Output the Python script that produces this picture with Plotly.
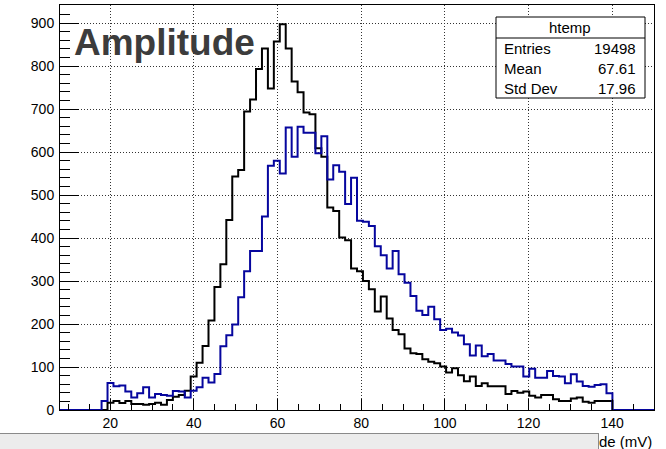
import numpy as np
import plotly.graph_objects as go

# ---- histogram binning (htemp: 100 bins from 8 to 150 mV) ----
n_bins = 100
x_min, x_max = 8.0, 150.0

# counts per bin (black: htemp, blue: second histogram)
black_counts = ([0] * 8 +
    [17, 21, 16, 21, 14, 14, 12, 14, 17, 12, 23, 31, 35, 45,
     78, 110, 149, 208, 286, 339, 442, 543, 558,
     694, 722, 793, 841, 748, 857, 897, 841, 764, 739,
     692, 688, 609, 589, 471, 463, 401, 395, 329, 323,
     300, 281, 229, 264, 213, 186, 176, 143, 132, 130,
     118, 112, 109, 101, 87, 97, 81, 67, 78, 56, 62, 55,
     55, 55, 37, 44, 40, 43, 33, 29, 35, 35, 25, 21, 21, 27, 29, 19, 17, 21, 21, 21] +
    [0] * 7)

blue_counts = ([0] * 7 +
    [21, 63, 55, 57, 43, 29, 39, 53, 29, 37, 35, 33, 44, 43, 29, 45, 53, 75, 64, 84,
     148, 174, 199, 262, 323, 370, 370, 450, 568, 580, 550, 657, 589, 659, 645, 645,
     597, 637, 536, 569, 554, 479, 540, 440,
     438, 428, 381, 360, 329, 370, 316, 296, 265, 231, 221, 240, 211, 186, 189, 180,
     173, 153, 127, 150, 125, 130,
     115, 115, 107, 101, 101, 78, 96, 75, 75, 91, 79, 78, 62, 83, 66, 56, 54, 58, 60, 39] +
    [0] * 7)

stats_title = "htemp"
stats_labels = ["Entries", "Mean", "Std Dev"]
stats_values = ["19498", "67.61", "17.96"]

y_max = 942
x_ticks = [20, 40, 60, 80, 100, 120, 140]
y_ticks = [0, 100, 200, 300, 400, 500, 600, 700, 800, 900]

edges = np.linspace(x_min, x_max, n_bins + 1)

def step_xy(counts):
    c = list(counts)
    return edges, c + [c[-1]]

W, H = 666, 449
L, R, T, B = 60, 12, 5, 39
pw, ph = W - L - R, H - T - B

def px(xp):
    return (xp - L) / pw

def py(yp):
    return (H - B - yp) / ph

font = "Liberation Sans, Arial, Helvetica, sans-serif"

fig = go.Figure()
bx, by = step_xy(black_counts)
fig.add_trace(go.Scatter(x=bx, y=by, mode="lines", line=dict(shape="hv", color="#000000", width=2),
                         showlegend=False, hoverinfo="skip"))
ux, uy = step_xy(blue_counts)
fig.add_trace(go.Scatter(x=ux, y=uy, mode="lines", line=dict(shape="hv", color="#06069e", width=2),
                         showlegend=False, hoverinfo="skip"))

axis_common = dict(showline=True, linecolor="#000000", linewidth=1, mirror=True,
                   ticks="inside", tickcolor="#000000", tickwidth=1,
                   showgrid=True, gridcolor="#333333", griddash="1px,2px", gridwidth=1,
                   zeroline=False, tickfont=dict(family=font, size=14, color="#000000"))

fig.update_xaxes(range=[x_min, x_max], tickvals=x_ticks, ticklen=11,
                 minor=dict(ticks="inside", ticklen=6, dtick=5, tick0=0, tickcolor="#000000", showgrid=False),
                 **axis_common)
fig.update_yaxes(range=[0, y_max], tickvals=y_ticks, ticklen=19,
                 minor=dict(ticks="inside", ticklen=10, dtick=20, tick0=0, tickcolor="#000000", showgrid=False),
                 ticklabelstandoff=2,
                 **axis_common)

shapes = [
    dict(type="rect", xref="paper", yref="paper", x0=px(496), x1=px(645), y0=py(98), y1=py(17),
         line=dict(color="#000000", width=1), fillcolor="#ffffff", layer="above"),
    dict(type="line", xref="paper", yref="paper", x0=px(496), x1=px(645), y0=py(38), y1=py(38),
         line=dict(color="#000000", width=1), layer="above"),
]

ann = []
ann.append(dict(text="<b>Amplitude</b>", xref="paper", yref="paper", x=px(72), y=py(43),
                xanchor="left", yanchor="middle", showarrow=False,
                font=dict(family=font, size=37, color="#3c3c3c")))
ann.append(dict(text=stats_title, xref="paper", yref="paper", x=px(570), y=py(27.5),
                xanchor="center", yanchor="middle", showarrow=False,
                font=dict(family=font, size=15, color="#000000")))
for i, (lab, val) in enumerate(zip(stats_labels, stats_values)):
    yc = 48 + 20 * i
    ann.append(dict(text=lab, xref="paper", yref="paper", x=px(502), y=py(yc),
                    xanchor="left", yanchor="middle", showarrow=False,
                    font=dict(family=font, size=15, color="#000000")))
    ann.append(dict(text=val, xref="paper", yref="paper", x=px(638), y=py(yc),
                    xanchor="right", yanchor="middle", showarrow=False,
                    font=dict(family=font, size=15, color="#000000")))
# x-axis title (right aligned), partly hidden by a grey status bar
ann.append(dict(text="Amplitude (mV)", xref="paper", yref="paper", x=px(654), y=py(441),
                xanchor="right", yanchor="middle", showarrow=False,
                font=dict(family=font, size=15, color="#000000")))
ann.append(dict(text=" ", xref="paper", yref="paper", x=px(296), y=py(446),
                xanchor="center", yanchor="middle", showarrow=False,
                width=604, height=24, bgcolor="#ececec", bordercolor="#8a8a8a", borderwidth=1,
                borderpad=0, font=dict(size=10)))

fig.update_layout(width=W, height=H, margin=dict(l=L, r=R, t=T, b=B, pad=0),
                  paper_bgcolor="#ffffff", plot_bgcolor="#ffffff",
                  shapes=shapes, annotations=ann, showlegend=False)

fig.write_html("out.html", config={"displayModeBar": False})
